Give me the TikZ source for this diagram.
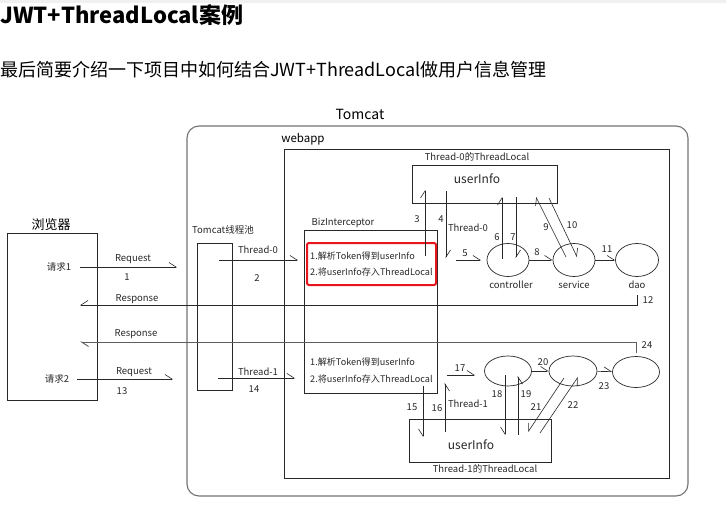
\documentclass[tikz,border=0pt]{standalone}
\usepackage{fontspec}
\setmainfont{Noto Sans CJK SC}
\usetikzlibrary{arrows.meta, shapes.geometric}
\definecolor{linecol}{RGB}{40,40,40}
\definecolor{framecol}{RGB}{115,115,115}
\definecolor{markcol}{RGB}{232,22,28}
\tikzset{
  box/.style={rectangle, draw=linecol, line width=0.7pt, inner sep=0pt},
  layer/.style={ellipse, draw=linecol, line width=0.7pt, inner sep=0pt},
  tiny/.style={font=\fontsize{9.5pt}{11pt}\selectfont, inner sep=0pt, text=black!85},
  steptxt/.style={tiny, anchor=west, font=\fontsize{9.1pt}{11pt}\selectfont},
  lbl/.style={font=\fontsize{12pt}{14pt}\selectfont, inner sep=0pt, text=black!85},
  fwd/.style={-{Straight Barb[left, length=7pt, width=9pt]}, draw=linecol, line width=0.6pt},
  bwd/.style={-{Straight Barb[right, length=7pt, width=9pt]}, draw=linecol, line width=0.6pt},
}
\begin{document}
\begin{tikzpicture}[x=1pt, y=-1pt]
    \useasboundingbox (0,0) rectangle (726,508);
    \fill[black!6] (0,0) rectangle (726,3);

    % heading
    \node[anchor=west, inner sep=0pt, font=\fontsize{22pt}{25pt}\selectfont\bfseries] (title) at (0,15) {JWT+ThreadLocal案例};
    \node[anchor=west, inner sep=0pt, font=\fontsize{18pt}{21pt}\selectfont] (intro) at (0,70) {最后简要介绍一下项目中如何结合JWT+ThreadLocal做用户信息管理};

    % containers
    \node[box, draw=framecol, line width=1.1pt, rounded corners=12pt, minimum width=501pt, minimum height=370pt] (tomcat) at (437.5,311) {};
    \node[font=\fontsize{14pt}{16pt}\selectfont, inner sep=0pt] (tomcat_lbl) at (360,114) {Tomcat};
    \node[box, minimum width=385pt, minimum height=329pt] (webapp) at (476.5,313.5) {};
    \node[font=\fontsize{11.5pt}{13pt}\selectfont, inner sep=0pt] (webapp_lbl) at (303,139) {webapp};
    \node[box, minimum width=90pt, minimum height=167pt] (browser) at (52,316.5) {};
    \node[font=\fontsize{13pt}{15pt}\selectfont, inner sep=0pt] (browser_lbl) at (51,225) {浏览器};
    \node[box, minimum width=35pt, minimum height=147pt] (pool) at (214.5,316.5) {};
    \node[tiny] (pool_lbl) at (223,230) {Tomcat线程池};
    \node[box, minimum width=133pt, minimum height=163pt] (biz) at (370.5,311.5) {};
    \node[tiny] (biz_lbl) at (343,223) {BizInterceptor};
    \node[rectangle, draw=markcol, line width=2pt, rounded corners=2pt, minimum width=129pt, minimum height=42pt] (mark) at (371.5,264) {};
    \node[box, minimum width=145pt, minimum height=38pt] (tl0) at (484.5,184) {};
    \node[tiny] (tl0_lbl) at (477,157) {Thread-0的ThreadLocal};
    \node[lbl] (tl0_txt) at (477,179) {userInfo};
    \node[box, minimum width=142pt, minimum height=43pt] (tl1) at (480,440.5) {};
    \node[tiny] (tl1_lbl) at (485,469) {Thread-1的ThreadLocal};
    \node[lbl] (tl1_txt) at (471,445) {userInfo};

    % interceptor steps
    \node[steptxt] (step0a) at (310,256) {1.解析Token得到userInfo};
    \node[steptxt] (step0b) at (310,272) {2.将userInfo存入ThreadLocal};
    \node[steptxt] (step1a) at (310,362) {1.解析Token得到userInfo};
    \node[steptxt] (step1b) at (310,379) {2.将userInfo存入ThreadLocal};

    % layers
    \node[layer, minimum width=42pt, minimum height=33pt] (ctl0) at (508,260) {};
    \node[layer, minimum width=42pt, minimum height=33pt] (svc0) at (574,260) {};
    \node[layer, minimum width=43pt, minimum height=33pt] (dao0) at (637,260) {};
    \node[tiny] at (511,285) {controller};
    \node[tiny] at (574,285) {service};
    \node[tiny] at (637,285) {dao};
    \node[layer, minimum width=47pt, minimum height=30pt] (ctl1) at (508,371) {};
    \node[layer, minimum width=48pt, minimum height=30pt] (svc1) at (573,371) {};
    \node[layer, minimum width=47pt, minimum height=31pt] (dao1) at (636,372) {};

    % browser side
    \node[tiny] (req1) at (59,267) {请求1};
    \node[tiny] (req2) at (57,379) {请求2};
    \node[tiny] at (133,259) {Request};
    \node[tiny] at (127,277) {1};
    \node[tiny] at (134,372) {Request};
    \node[tiny] at (122,391) {13};
    \node[tiny] at (137,299) {Response};
    \node[tiny] at (136,334) {Response};
    \node[tiny] at (258,250) {Thread-0};
    \node[tiny] at (257,278) {2};
    \node[tiny] at (258,372) {Thread-1};
    \node[tiny] at (254,389) {14};

    % step numbers
    \node[tiny] at (417,219) {3};
    \node[tiny] at (441,219) {4};
    \node[tiny] at (468,228) {Thread-0};
    \node[tiny] at (465,253) {5};
    \node[tiny] at (497,237) {6};
    \node[tiny] at (513,237) {7};
    \node[tiny] at (537,252) {8};
    \node[tiny] at (546,227) {9};
    \node[tiny] at (572,225) {10};
    \node[tiny] at (607,249) {11};
    \node[tiny] at (648,300) {12};
    \node[tiny] at (412,407) {15};
    \node[tiny] at (437,408) {16};
    \node[tiny] at (468,404) {Thread-1};
    \node[tiny] at (460,368) {17};
    \node[tiny] at (497,394) {18};
    \node[tiny] at (526,394) {19};
    \node[tiny] at (543,362) {20};
    \node[tiny] at (536,407) {21};
    \node[tiny] at (573,405) {22};
    \node[tiny] at (604,386) {23};
    \node[tiny] at (647,345) {24};

    % free ends
    \coordinate (r1a) at (80,267);   \coordinate (r1b) at (177,267);
    \coordinate (r2a) at (77,379);   \coordinate (r2b) at (173,379);
    \coordinate (t0a) at (219,260);  \coordinate (t0b) at (298,260);
    \coordinate (t1a) at (218,378);  \coordinate (t1b) at (295,378);
    \coordinate (p1a) at (637,295);  \coordinate (p1b) at (80,305);
    \coordinate (p2a) at (636,353);  \coordinate (p2b) at (80,342);
    \coordinate (s3a) at (425,256);  \coordinate (s3b) at (425,190);
    \coordinate (s4a) at (446,191);  \coordinate (s4b) at (446,258);
    \coordinate (s5a) at (456,260);  \coordinate (s5b) at (481,260);
    \coordinate (s6a) at (502,259);  \coordinate (s6b) at (502,197);
    \coordinate (s7a) at (516,197);  \coordinate (s7b) at (516,258);
    \coordinate (s9a) at (566,257);  \coordinate (s9b) at (536,197);
    \coordinate (s10a) at (549,198); \coordinate (s10b) at (577,257);
    \coordinate (s15a) at (423,386); \coordinate (s15b) at (423,437);
    \coordinate (s16a) at (445,432); \coordinate (s16b) at (445,383);
    \coordinate (s17a) at (447,375); \coordinate (s17b) at (475,375);
    \coordinate (s18a) at (505,375); \coordinate (s18b) at (505,435);
    \coordinate (s19a) at (518,435); \coordinate (s19b) at (518,376);
    \coordinate (s21a) at (564,378); \coordinate (s21b) at (528,432);
    \coordinate (s22a) at (540,433); \coordinate (s22b) at (578,377);

    % request / response
    \draw[fwd] (r1a) -- (r1b);
    \draw[fwd] (r2a) -- (r2b);
    \draw[fwd] (t0a) -- (t0b);
    \draw[fwd] (t1a) -- (t1b);
    \draw[bwd] (p1a) |- (p1b);
    \draw[fwd, draw=linecol!75, line width=0.9pt] (p2a) |- (p2b);

    % thread 0
    \draw[fwd] (s3a) -- (s3b);
    \draw[fwd] (s4a) -- (s4b);
    \draw[fwd] (s5a) -- (s5b);
    \draw[fwd] (s6a) -- (s6b);
    \draw[fwd] (s7a) -- (s7b);
    \draw[fwd] (ctl0) -- (svc0);
    \draw[fwd] (s9a) -- (s9b);
    \draw[fwd] (s10a) -- (s10b);
    \draw[fwd] (svc0) -- (dao0);

    % thread 1
    \draw[bwd] (s15a) -- (s15b);
    \draw[bwd] (s16a) -- (s16b);
    \draw[fwd] (s17a) -- (s17b);
    \draw[bwd] (s18a) -- (s18b);
    \draw[bwd] (s19a) -- (s19b);
    \draw[fwd] (ctl1) -- (svc1);
    \draw[bwd] (s21a) -- (s21b);
    \draw[bwd] (s22a) -- (s22b);
    \draw[fwd] (svc1) -- (dao1);
\end{tikzpicture}
\end{document}
